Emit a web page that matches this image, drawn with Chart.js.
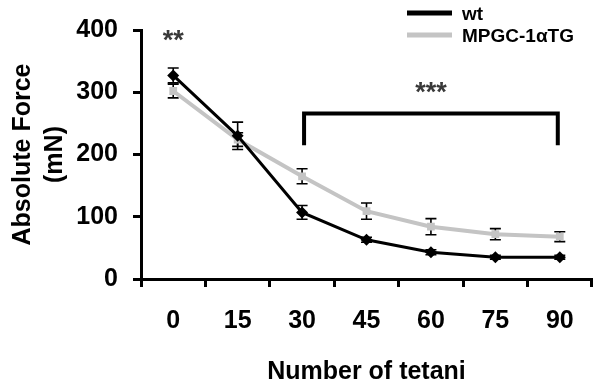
<!DOCTYPE html>
<html><head><meta charset="utf-8">
<style>html,body{margin:0;padding:0;background:#fff}#wrap{width:598px;height:390px}</style>
<script src="https://cdn.jsdelivr.net/npm/chart.js@4.4.1/dist/chart.umd.min.js"></script>
</head><body><div id="wrap"><canvas id="c" width="598" height="390"></canvas></div>
<script>
const categories = ['0','15','30','45','60','75','90'];
const wtValues = [327, 230, 107, 63, 43, 35, 35];
const wtErrors = [12, 22, 11, 4, 4, 3, 3];
const tgValues = [302, 224, 165, 109, 84, 72, 68];
const tgErrors = [11, 11, 12, 13, 13, 9, 8];
const seriesLabels = ['wt', 'MPGC-1\u03b1TG'];
const yTicks = [0, 100, 200, 300, 400];
const xTitle = 'Number of tetani';
const yTitle = ['Absolute Force', '(mN)'];
// significance annotations
const starsEarly = {label: '**', category: '0', value: 391};
const starsLate = {label: '***', category: '60', value: 308};
const bracket = {from: '30', to: '90', top: 266, bottom: 215};

const FONT = '"Liberation Sans", Arial, sans-serif';
Chart.defaults.font.family = FONT;
Chart.defaults.color = '#000';

const errorBars = {
  id: 'errorBars',
  beforeDatasetsDraw(chart) {
    const ctx = chart.ctx, y = chart.scales.y;
    ctx.save();
    ctx.strokeStyle = '#000';
    ctx.lineWidth = 1.6;
    chart.data.datasets.forEach((ds, i) => {
      const meta = chart.getDatasetMeta(i);
      ds.errors.forEach((e, j) => {
        const px = meta.data[j].x;
        const t = y.getPixelForValue(ds.data[j] + e);
        const b = y.getPixelForValue(ds.data[j] - e);
        ctx.beginPath();
        ctx.moveTo(px, t); ctx.lineTo(px, b);
        ctx.moveTo(px - 5.5, t); ctx.lineTo(px + 5.5, t);
        ctx.moveTo(px - 5.5, b); ctx.lineTo(px + 5.5, b);
        ctx.stroke();
      });
    });
    ctx.restore();
  }
};

const annotations = {
  id: 'annotations',
  afterDraw(chart) {
    const ctx = chart.ctx, x = chart.scales.x, y = chart.scales.y;
    ctx.save();
    // bracket
    const x1 = x.getPixelForValue(categories.indexOf(bracket.from)) + 2;
    const x2 = x.getPixelForValue(categories.indexOf(bracket.to)) - 2;
    const yt = y.getPixelForValue(bracket.top), yb = y.getPixelForValue(bracket.bottom);
    ctx.strokeStyle = '#000';
    ctx.lineWidth = 4;
    ctx.lineJoin = 'miter';
    ctx.beginPath();
    ctx.moveTo(x1, yb); ctx.lineTo(x1, yt); ctx.lineTo(x2, yt); ctx.lineTo(x2, yb);
    ctx.stroke();
    // stars
    ctx.fillStyle = '#3a3a3a';
    ctx.font = 'bold 27px ' + FONT;
    ctx.textAlign = 'center';
    ctx.textBaseline = 'middle';
    [starsEarly, starsLate].forEach(s => {
      ctx.fillText(s.label, x.getPixelForValue(categories.indexOf(s.category)), y.getPixelForValue(s.value) + 6);
    });
    // legend
    ctx.textAlign = 'left';
    ctx.font = 'bold 19px ' + FONT;
    ctx.fillStyle = '#000';
    chart.data.datasets.forEach((ds, i) => {
      const ly = 13 + i * 22;
      ctx.strokeStyle = ds.borderColor;
      ctx.lineWidth = 5;
      ctx.beginPath(); ctx.moveTo(407, ly); ctx.lineTo(452, ly); ctx.stroke();
      ctx.fillText(ds.label, 462, ly + 2);
    });
    ctx.restore();
  }
};

new Chart(document.getElementById('c'), {
  type: 'line',
  data: {
    labels: categories,
    datasets: [
      {label: seriesLabels[0], data: wtValues, errors: wtErrors, borderColor: '#000', backgroundColor: '#000',
       borderWidth: 3, pointStyle: 'rectRot', pointRadius: 6, pointBorderWidth: 0, tension: 0},
      {label: seriesLabels[1], data: tgValues, errors: tgErrors, borderColor: '#c4c4c4', backgroundColor: '#c4c4c4',
       borderWidth: 4, pointStyle: 'rect', pointRadius: 5.5, pointBorderWidth: 0, tension: 0}
    ]
  },
  options: {
    responsive: false,
    animation: false,
    devicePixelRatio: 1,
    layout: {padding: {top: 26, right: 0, bottom: 0, left: 0}},
    plugins: {legend: {display: false}, tooltip: {enabled: false}},
    scales: {
      x: {
        offset: true,
        grid: {offset: true, drawOnChartArea: false, tickLength: 8, tickWidth: 3, tickColor: '#000'},
        border: {display: true, color: '#000', width: 3},
        ticks: {font: {size: 25, weight: 'bold'}, padding: 19, color: '#000'},
        title: {display: true, text: xTitle, font: {size: 25, weight: 'bold'}, padding: {top: 0, bottom: 3}, color: '#000'},
        afterFit(s) { s.height = 111; }
      },
      y: {
        min: 0, max: 400,
        afterBuildTicks(s) { s.ticks = yTicks.map(v => ({value: v})); },
        grid: {drawOnChartArea: false, tickLength: 8, tickWidth: 3, tickColor: '#000'},
        border: {display: true, color: '#000', width: 3},
        ticks: {font: {size: 25, weight: 'bold'}, padding: 15, color: '#000'},
        title: {display: true, text: yTitle, font: {size: 25, weight: 'bold', lineHeight: 1.28}, padding: {top: 7, bottom: 0}, color: '#000'},
        afterFit(s) { s.width = 141; }
      }
    }
  },
  plugins: [errorBars, annotations]
});
</script>
</body></html>
